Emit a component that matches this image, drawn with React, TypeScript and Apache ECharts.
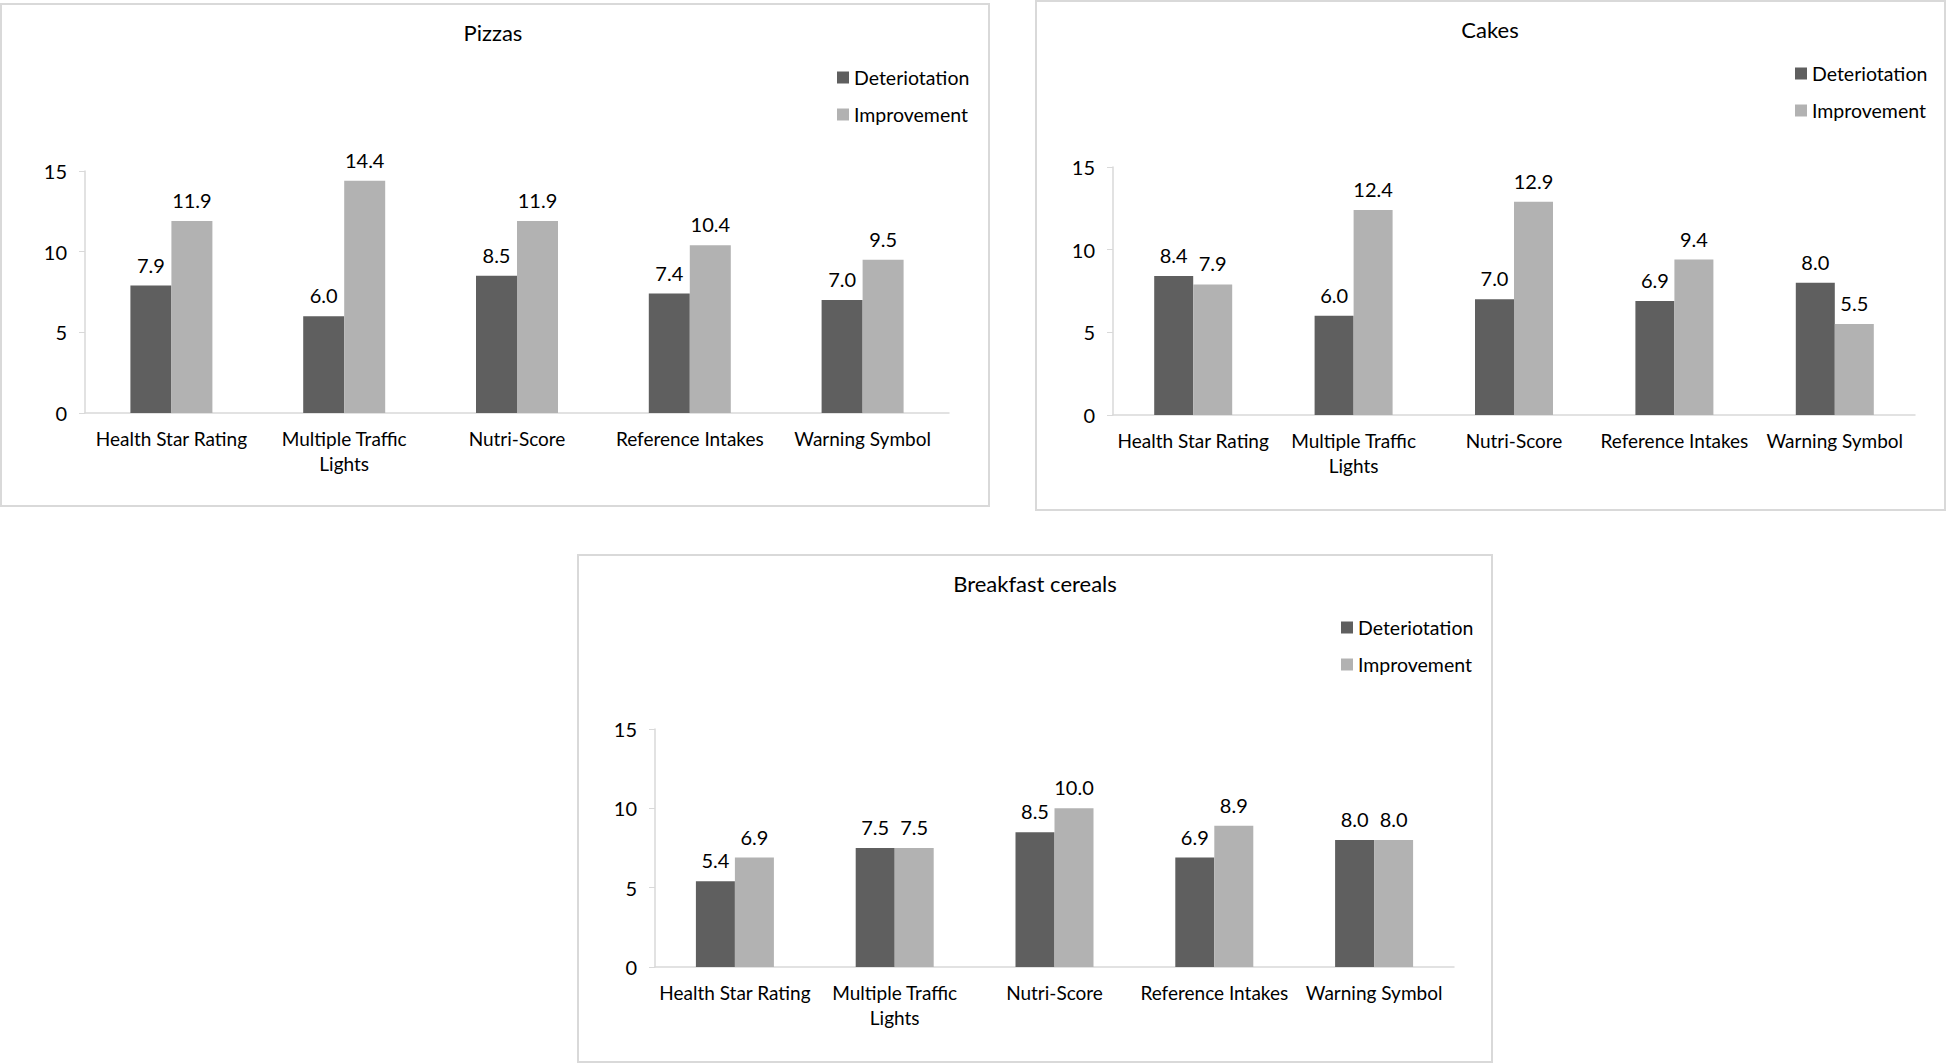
import React, { useEffect, useRef } from "react";
import * as echarts from "echarts";

const categories = [
  "Health Star Rating",
  "Multiple Traffic Lights",
  "Nutri-Score",
  "Reference Intakes",
  "Warning Symbol",
];
const seriesNames = ["Deteriotation", "Improvement"];
const yTicks = [0, 5, 10, 15];

const pizzasDeterioration = [7.9, 6.0, 8.5, 7.4, 7.0];
const pizzasImprovement = [11.9, 14.4, 11.9, 10.4, 9.5];
const cakesDeterioration = [8.4, 6.0, 7.0, 6.9, 8.0];
const cakesImprovement = [7.9, 12.4, 12.9, 9.4, 5.5];
const cerealsDeterioration = [5.4, 7.5, 8.5, 6.9, 8.0];
const cerealsImprovement = [6.9, 7.5, 10.0, 8.9, 8.0];

const FONT = "Lato, 'Noto Sans', sans-serif";
const DARK = "#5f5f5f";
const LIGHT = "#b2b2b2";
const AXIS = "#d9d9d9";
const TEXT = "#000000";

const panels = [
  {
    title: "Pizzas",
    det: pizzasDeterioration,
    imp: pizzasImprovement,
    box: { x: 1, y: 4, w: 988, h: 502 },
    titleX: 488,
    titleTop: 16,
    grid: { left: 85, right: 997, top: 171, bottom: 650 },
    legend: { left: 832, top: 61 },
    barWidth: 41,
  },
  {
    title: "Cakes",
    det: cakesDeterioration,
    imp: cakesImprovement,
    box: { x: 1036, y: 1, w: 909, h: 509 },
    titleX: 1485,
    titleTop: 13,
    grid: { left: 1113, right: 31, top: 167, bottom: 648 },
    legend: { left: 1790, top: 57 },
    barWidth: 39,
  },
  {
    title: "Breakfast cereals",
    det: cerealsDeterioration,
    imp: cerealsImprovement,
    box: { x: 578, y: 555, w: 914, h: 507 },
    titleX: 1030,
    titleTop: 567,
    grid: { left: 655, right: 492, top: 729, bottom: 96 },
    legend: { left: 1336, top: 611 },
    barWidth: 39,
  },
];

export default function App() {
  const ref = useRef<HTMLDivElement>(null);

  useEffect(() => {
    if (!ref.current) return;
    const chart = echarts.init(ref.current, undefined, { renderer: "svg" });

    const titles: any[] = [];
    const legends: any[] = [];
    const grids: any[] = [];
    const xAxes: any[] = [];
    const yAxes: any[] = [];
    const series: any[] = [];
    const graphics: any[] = [];

    panels.forEach((p, i) => {
      graphics.push({
        type: "rect",
        shape: { x: p.box.x, y: p.box.y, width: p.box.w, height: p.box.h },
        style: { fill: "none", stroke: AXIS, lineWidth: 2 },
        silent: true,
        z: -1,
      });
      titles.push({
        text: p.title,
        left: p.titleX,
        top: p.titleTop,
        textAlign: "center",
        textStyle: {
          fontFamily: FONT,
          fontSize: 22,
          fontWeight: "normal",
          color: TEXT,
        },
      });
      legends.push({
        data: seriesNames,
        orient: "vertical",
        left: p.legend.left,
        top: p.legend.top,
        itemWidth: 12,
        itemHeight: 12,
        itemGap: 14,
        icon: "rect",
        selectedMode: false,
        textStyle: {
          fontFamily: FONT,
          fontSize: 19.5,
          color: TEXT,
          lineHeight: 23,
        },
      });
      grids.push({
        left: p.grid.left,
        right: p.grid.right,
        top: p.grid.top,
        bottom: p.grid.bottom,
        containLabel: false,
      });
      xAxes.push({
        type: "category",
        gridIndex: i,
        data: categories,
        axisLine: { show: true, lineStyle: { color: AXIS, width: 1.5 } },
        axisTick: { show: false },
        axisLabel: {
          interval: 0,
          margin: 13,
          fontFamily: FONT,
          fontSize: 19,
          lineHeight: 25,
          color: TEXT,
          formatter: (v: string) => v.replace("Traffic ", "Traffic\n"),
        },
      });
      yAxes.push({
        type: "value",
        gridIndex: i,
        min: yTicks[0],
        max: yTicks[yTicks.length - 1],
        interval: yTicks[1] - yTicks[0],
        axisLine: { show: true, lineStyle: { color: AXIS, width: 1.5 } },
        axisTick: { show: true, length: 6, lineStyle: { color: AXIS } },
        splitLine: { show: false },
        axisLabel: {
          margin: 18,
          fontFamily: FONT,
          fontSize: 20,
          color: TEXT,
        },
      });
      const label = {
        show: true,
        position: "top",
        distance: 11,
        fontFamily: FONT,
        fontSize: 20,
        color: TEXT,
        formatter: (d: any) => Number(d.value).toFixed(1),
      };
      series.push({
        name: seriesNames[0],
        type: "bar",
        xAxisIndex: i,
        yAxisIndex: i,
        data: p.det,
        barWidth: p.barWidth,
        barGap: "0%",
        itemStyle: { color: DARK },
        label,
      });
      series.push({
        name: seriesNames[1],
        type: "bar",
        xAxisIndex: i,
        yAxisIndex: i,
        data: p.imp,
        barWidth: p.barWidth,
        barGap: "0%",
        itemStyle: { color: LIGHT },
        label,
      });
    });

    chart.setOption({
      animation: false,
      backgroundColor: "#ffffff",
      color: [DARK, LIGHT],
      title: titles,
      legend: legends,
      grid: grids,
      xAxis: xAxes,
      yAxis: yAxes,
      series,
      graphic: graphics,
    });

    return () => chart.dispose();
  }, []);

  return (
    <div
      ref={ref}
      style={{
        position: "fixed",
        left: 0,
        top: 0,
        width: 1946,
        height: 1063,
        background: "#ffffff",
      }}
    />
  );
}
